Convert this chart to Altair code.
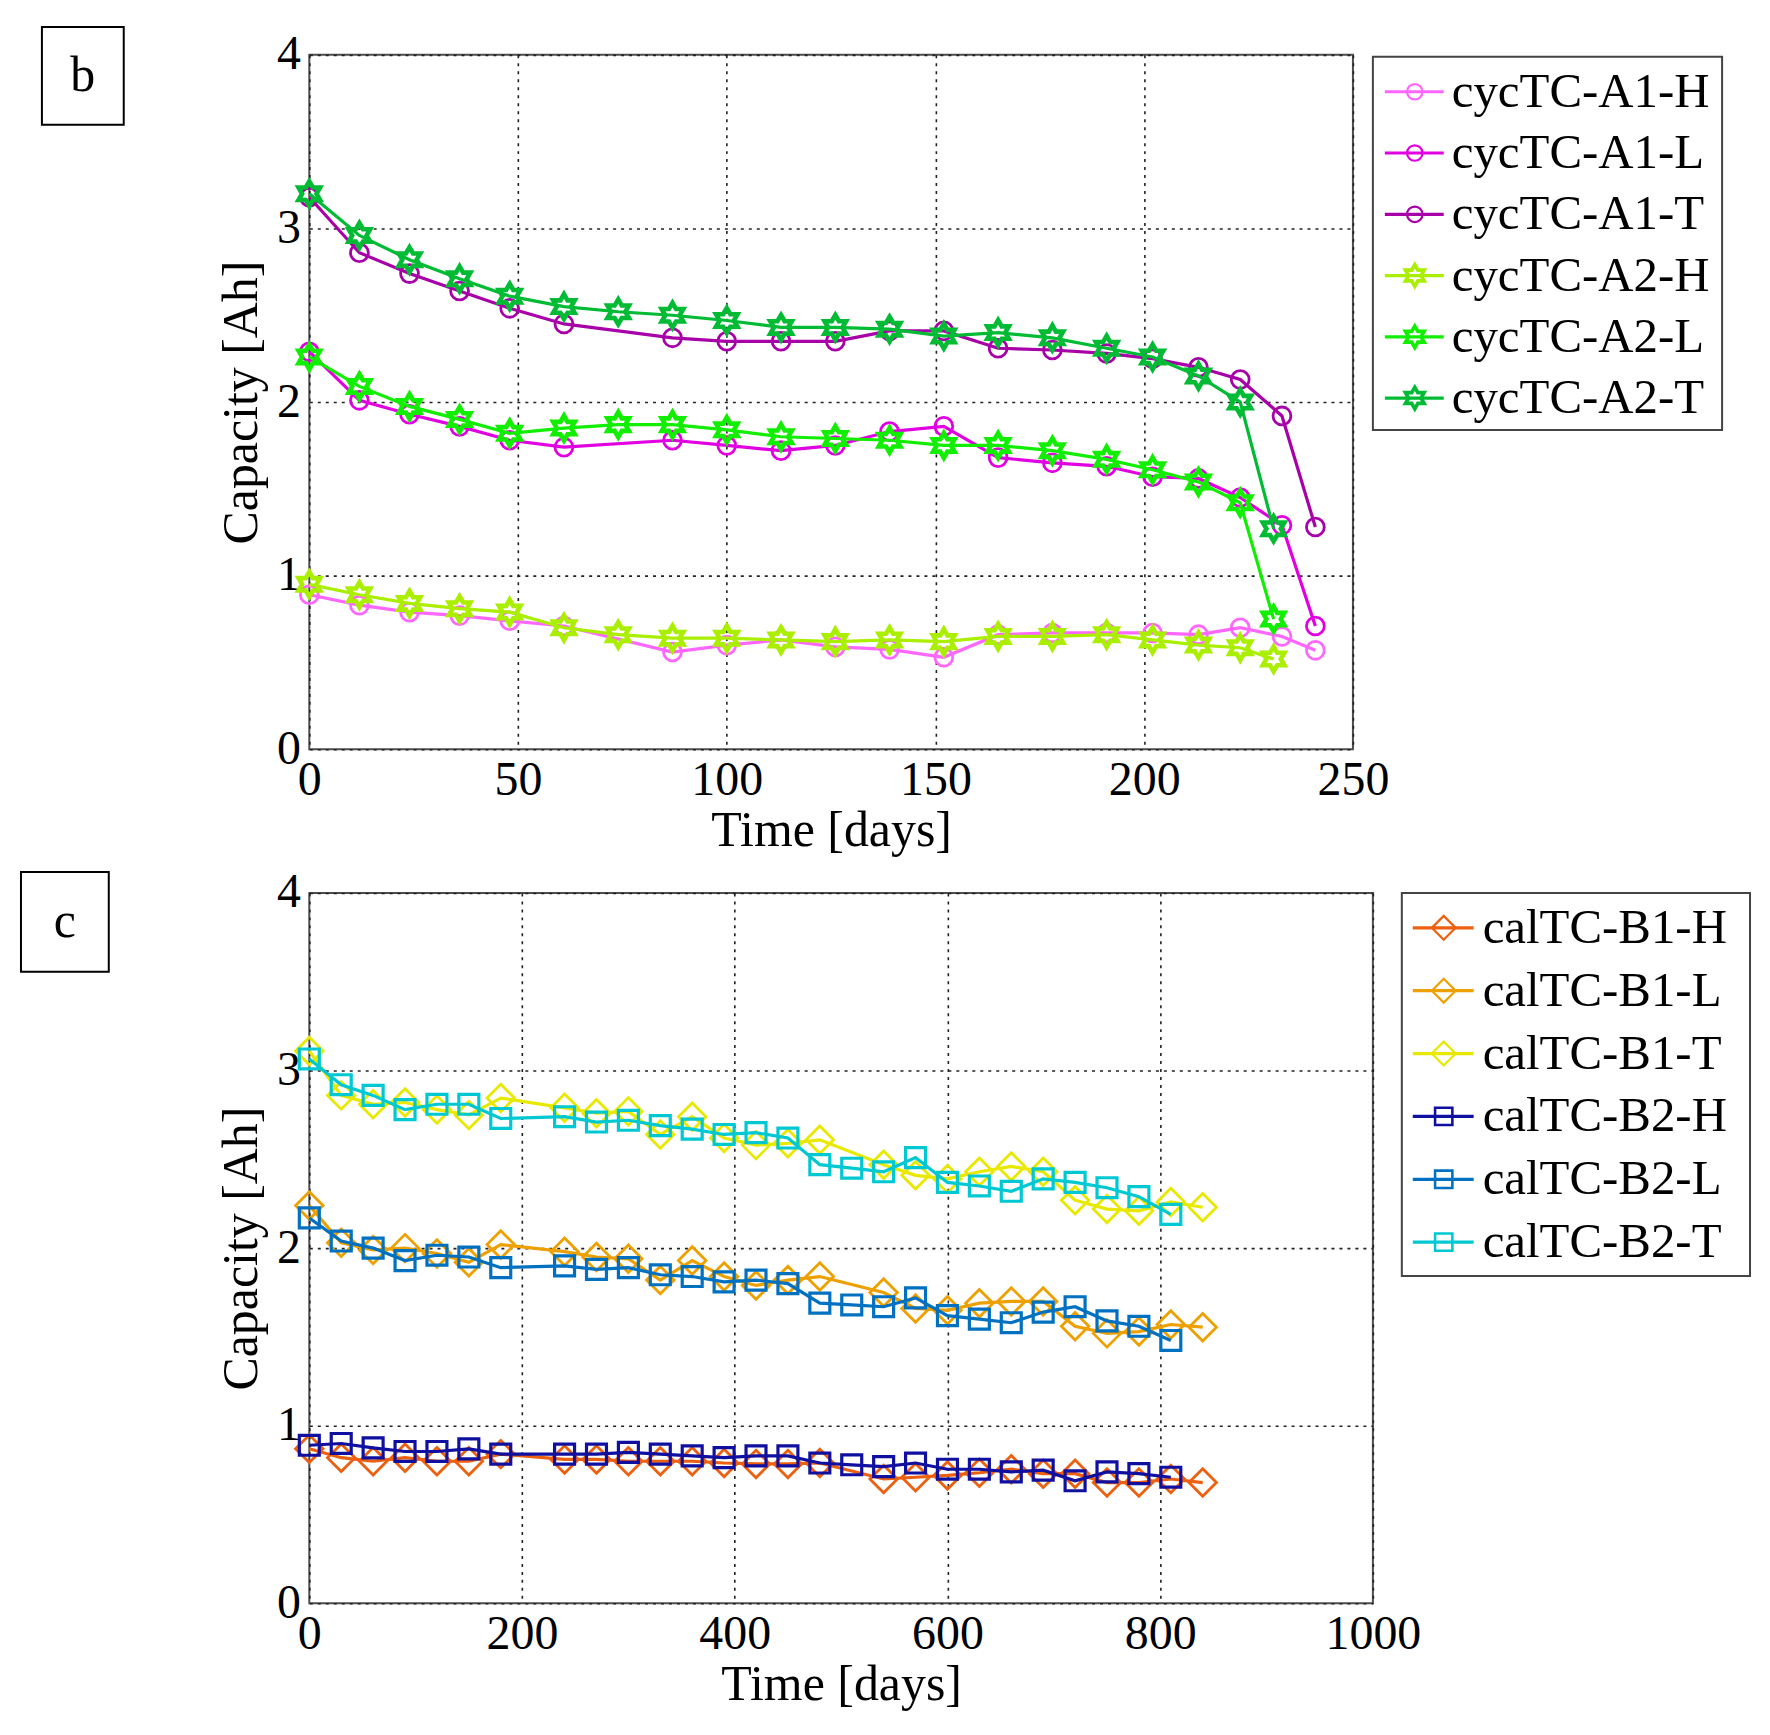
import math
import altair as alt
import pandas as pd

# ---------------- panel b data ----------------
b_days_A1 = [0, 12, 24, 36, 48, 61, 87, 100, 113, 126, 139, 152, 165, 178, 191, 202, 213, 223, 233, 241]
b_days_A2 = [0, 12, 24, 36, 48, 61, 74, 87, 100, 113, 126, 139, 152, 165, 178, 191, 202, 213, 223, 231]

cap_A1_H = [0.89, 0.83, 0.79, 0.77, 0.74, 0.71, 0.56, 0.60, 0.63, 0.59, 0.575, 0.53, 0.66, 0.67, 0.67, 0.67, 0.66, 0.70, 0.65, 0.57]
cap_A1_L = [2.29, 2.01, 1.93, 1.86, 1.78, 1.74, 1.78, 1.75, 1.72, 1.75, 1.83, 1.86, 1.68, 1.65, 1.63, 1.57, 1.56, 1.45, 1.29, 0.71]
cap_A1_T = [3.18, 2.86, 2.74, 2.64, 2.54, 2.45, 2.37, 2.35, 2.35, 2.35, 2.41, 2.41, 2.31, 2.30, 2.28, 2.25, 2.20, 2.13, 1.92, 1.28]
cap_A2_H = [0.95, 0.89, 0.84, 0.81, 0.79, 0.70, 0.66, 0.64, 0.64, 0.63, 0.62, 0.63, 0.62, 0.65, 0.65, 0.66, 0.63, 0.60, 0.585, 0.52]
cap_A2_L = [2.26, 2.09, 1.975, 1.90, 1.82, 1.85, 1.87, 1.87, 1.84, 1.80, 1.79, 1.78, 1.75, 1.75, 1.72, 1.67, 1.61, 1.54, 1.42, 0.75]
cap_A2_T = [3.20, 2.96, 2.82, 2.71, 2.61, 2.55, 2.52, 2.50, 2.47, 2.43, 2.43, 2.42, 2.38, 2.40, 2.37, 2.31, 2.26, 2.15, 2.00, 1.27]

b_names = ["cycTC-A1-H", "cycTC-A1-L", "cycTC-A1-T", "cycTC-A2-H", "cycTC-A2-L", "cycTC-A2-T"]
b_colors = ["#ff66ff", "#e100e1", "#a800a8", "#aaee00", "#11ee00", "#00bb33"]
b_xticks = [0, 50, 100, 150, 200, 250]

# ---------------- panel c data ----------------
c_days_B1 = [0, 30, 60, 90, 120, 150, 180, 240, 270, 300, 330, 360, 390, 420, 450, 480,
             540, 570, 600, 630, 660, 690, 720, 750, 780, 810, 840]
c_days_B2 = [0, 30, 60, 90, 120, 150, 180, 240, 270, 300, 330, 360, 390, 420, 450, 480,
             510, 540, 570, 600, 630, 660, 690, 720, 750, 780, 810]

cap_B1_H = [0.87, 0.82, 0.80, 0.82, 0.80, 0.80, 0.84, 0.81, 0.81, 0.80, 0.80, 0.80, 0.79, 0.785, 0.785, 0.79,
            0.70, 0.71, 0.72, 0.735, 0.755, 0.73, 0.73, 0.68, 0.68, 0.70, 0.68]
cap_B1_L = [2.24, 2.03, 1.99, 2.00, 1.97, 1.92, 2.02, 1.98, 1.95, 1.94, 1.82, 1.93, 1.84, 1.79, 1.82, 1.84,
            1.75, 1.66, 1.65, 1.69, 1.70, 1.70, 1.56, 1.52, 1.53, 1.57, 1.555]
cap_B1_T = [3.11, 2.86, 2.81, 2.82, 2.78, 2.75, 2.845, 2.79, 2.76, 2.77, 2.64, 2.74, 2.62, 2.58, 2.59, 2.61,
            2.47, 2.41, 2.39, 2.43, 2.46, 2.43, 2.27, 2.22, 2.21, 2.26, 2.23]
cap_B2_H = [0.89, 0.90, 0.875, 0.855, 0.855, 0.87, 0.84, 0.84, 0.84, 0.85, 0.84, 0.83, 0.82, 0.83, 0.83, 0.79,
            0.78, 0.77, 0.79, 0.755, 0.755, 0.74, 0.75, 0.69, 0.74, 0.73, 0.71]
cap_B2_L = [2.17, 2.04, 2.00, 1.93, 1.96, 1.95, 1.89, 1.90, 1.88, 1.89, 1.85, 1.84, 1.81, 1.82, 1.80, 1.69,
            1.68, 1.67, 1.72, 1.62, 1.60, 1.58, 1.64, 1.67, 1.59, 1.56, 1.48]
cap_B2_T = [3.065, 2.92, 2.86, 2.78, 2.81, 2.81, 2.73, 2.74, 2.71, 2.72, 2.69, 2.67, 2.64, 2.65, 2.62, 2.47,
            2.45, 2.43, 2.51, 2.37, 2.35, 2.32, 2.39, 2.37, 2.34, 2.29, 2.19]

c_names = ["calTC-B1-H", "calTC-B1-L", "calTC-B1-T", "calTC-B2-H", "calTC-B2-L", "calTC-B2-T"]
c_colors = ["#ec6010", "#eea000", "#e8e800", "#1010a0", "#0070c0", "#00c8d2"]
c_xticks = [0, 200, 400, 600, 800, 1000]

y_ticks = [0, 1, 2, 3, 4]

FONT = "Liberation Serif"


def hexagram():
    pts = []
    for k in range(12):
        a = math.radians(-90 + 30 * k)
        r = 1.0 if k % 2 == 0 else 0.5774
        pts.append(f"{r * math.cos(a):.4f},{r * math.sin(a):.4f}")
    return "M" + "L".join(pts) + "Z"


HEX = hexagram()


def make_df(names, days_list, caps_list):
    rows = []
    for n, d, c in zip(names, days_list, caps_list):
        for dd, cc in zip(d, c):
            rows.append({"series": n, "day": dd, "cap": cc})
    return pd.DataFrame(rows)


def panel(df, names, colors, shapes, sizes, widths, xmax, xticks, width, height,
          leg, box, letter):
    x_enc = alt.X("day:Q", scale=alt.Scale(domain=[0, xmax], nice=False, zero=False),
                  axis=alt.Axis(values=xticks, title="Time [days]", format="d", labelFlush=False))
    y_enc = alt.Y("cap:Q", scale=alt.Scale(domain=[0, 4], nice=False),
                  axis=alt.Axis(values=y_ticks, title="Capacity [Ah]", format="d", labelFlush=False))
    layers = []
    for n, col, shp, sz, sw in zip(names, colors, shapes, sizes, widths):
        base = alt.Chart(df).transform_filter(alt.datum.series == n)
        layers.append(base.mark_line(color=col, strokeWidth=3.2).encode(x=x_enc, y=y_enc))
        layers.append(base.mark_point(shape=shp, size=sz, filled=False, color=col,
                                      strokeWidth=sw, opacity=1).encode(x=x_enc, y=y_enc))
    one = alt.Data(values=[{}])
    # legend box
    bx0, bx1, by0, by1, ry0, rdy, lx0, lx1, mx, tx = leg
    layers.append(alt.Chart(one).mark_rect(fill="white", stroke="#444444", strokeWidth=2).encode(
        x=alt.value(bx0), x2=alt.value(bx1), y=alt.value(by0), y2=alt.value(by1)))
    for i, (n, col, shp, sz, sw) in enumerate(zip(names, colors, shapes, sizes, widths)):
        yy = ry0 + i * rdy
        layers.append(alt.Chart(one).mark_rule(color=col, strokeWidth=3.2).encode(
            x=alt.value(lx0), x2=alt.value(lx1), y=alt.value(yy)))
        layers.append(alt.Chart(one).mark_point(shape=shp, size=sz * 0.75, filled=False, color=col,
                                                strokeWidth=sw * 0.8, opacity=1).encode(
            x=alt.value(mx), y=alt.value(yy)))
        layers.append(alt.Chart(one).mark_text(text=n, font=FONT, fontSize=49, align="left",
                                               baseline="middle", color="black").encode(
            x=alt.value(tx), y=alt.value(yy)))
    # panel letter box
    kx0, kx1, ky0, ky1 = box
    layers.append(alt.Chart(one).mark_rect(fill="white", stroke="black", strokeWidth=2).encode(
        x=alt.value(kx0), x2=alt.value(kx1), y=alt.value(ky0), y2=alt.value(ky1)))
    layers.append(alt.Chart(one).mark_text(text=letter, font=FONT, fontSize=50, align="center",
                                           baseline="middle", color="black").encode(
        x=alt.value((kx0 + kx1) / 2), y=alt.value((ky0 + ky1) / 2)))
    return alt.layer(*layers).properties(width=width, height=height)


df_b = make_df(b_names, [b_days_A1] * 3 + [b_days_A2] * 3,
               [cap_A1_H, cap_A1_L, cap_A1_T, cap_A2_H, cap_A2_L, cap_A2_T])
df_c = make_df(c_names, [c_days_B1] * 3 + [c_days_B2] * 3,
               [cap_B1_H, cap_B1_L, cap_B1_T, cap_B2_H, cap_B2_L, cap_B2_T])

pb = panel(df_b, b_names, b_colors, ["circle"] * 3 + [HEX] * 3, [320] * 3 + [620] * 3,
           [2.8] * 3 + [4.6] * 3,
           250, b_xticks, 1046, 696,
           (1066, 1416, 2, 376, 37, 61.4, 1078, 1137, 1108, 1145),
           (-268, -186, -28, 70), "b")
pc = panel(df_c, c_names, c_colors, ["diamond"] * 3 + ["square"] * 3, [760] * 3 + [400] * 3,
           [2.8] * 3 + [3.2] * 3,
           1000, c_xticks, 1066, 712,
           (1095, 1444, 0, 384, 35, 63, 1106, 1167, 1137, 1176),
           (-289, -201, -21, 79), "c")

chart = alt.vconcat(pb, pc, spacing=12).properties(
    padding={"left": 11, "top": 15, "right": 10, "bottom": 10},
    background="white",
).configure_view(
    stroke="#4d4d4d", strokeWidth=2
).configure_axis(
    labelFont=FONT, titleFont=FONT, labelFontSize=48, titleFontSize=50,
    labelColor="black", titleColor="black", titleFontWeight="normal",
    grid=True, gridColor="#222222", gridDash=[3, 5], gridWidth=1.6, gridOpacity=1,
    domain=False, ticks=False,
).configure_axisX(
    labelPadding=7, titlePadding=1
).configure_axisY(
    labelPadding=9, titlePadding=10
)

chart.save("out.html", embed_options={"renderer": "svg", "actions": False})
